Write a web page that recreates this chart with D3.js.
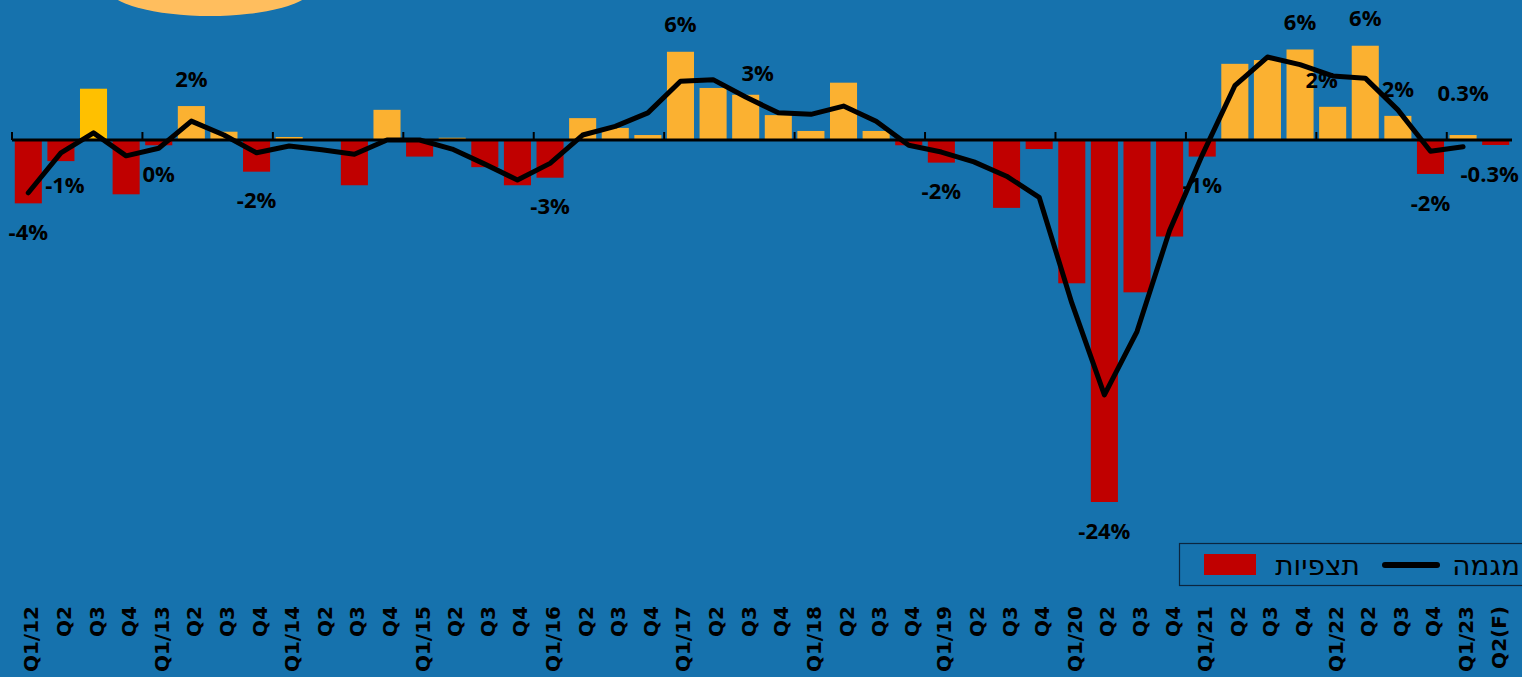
<!DOCTYPE html>
<html><head><meta charset="utf-8">
<script src="https://cdn.jsdelivr.net/npm/d3@7/dist/d3.min.js"></script>
<style>
html,body{margin:0;padding:0;background:#1672AD;overflow:hidden;}
svg{display:block;}
</style></head>
<body>
<svg id="chart" width="1522" height="677"></svg>
<script>
// ---- data ----
const quarters = ["Q1/12","Q2","Q3","Q4","Q1/13","Q2","Q3","Q4","Q1/14","Q2","Q3","Q4",
  "Q1/15","Q2","Q3","Q4","Q1/16","Q2","Q3","Q4","Q1/17","Q2","Q3","Q4",
  "Q1/18","Q2","Q3","Q4","Q1/19","Q2","Q3","Q4","Q1/20","Q2","Q3","Q4",
  "Q1/21","Q2","Q3","Q4","Q1/22","Q2","Q3","Q4","Q1/23","Q2(F)"];
// observations (bars), % change
const observations = [-4.2,-1.4,3.4,-3.6,-0.35,2.25,0.55,-2.1,0.2,0,-3.0,2.0,
  -1.1,0.15,-1.8,-3.0,-2.5,1.45,0.8,0.33,5.85,3.45,3.0,1.65,
  0.6,3.8,0.6,-0.35,-1.5,0,-4.5,-0.6,-9.5,-24.0,-10.1,-6.4,
  -1.1,5.05,5.3,6.0,2.2,6.25,1.6,-2.25,0.33,-0.33];
// trend (line), ends at Q1/23
const trend = [-3.5,-0.85,0.47,-1.05,-0.55,1.25,0.33,-0.85,-0.4,-0.65,-0.95,0,
  0,-0.6,-1.6,-2.65,-1.55,0.33,0.9,1.8,3.9,4.0,2.85,1.8,
  1.7,2.25,1.25,-0.35,-0.8,-1.45,-2.4,-3.8,-10.8,-16.9,-12.7,-6.0,
  -1.0,3.6,5.5,5.0,4.25,4.1,2.0,-0.75,-0.45];
const labelIdx  = [0,1,4,5,7,16,20,22,28,33,36,39,40,41,42,43,44,45];
const labelText = ["-4%","-1%","0%","2%","-2%","-3%","6%","3%","-2%","-24%","-1%","6%","2%","6%","2%","-2%","0.3%","-0.3%"];
const legendNames = ["מגמה","תצפיות"];

// ---- layout ----
const svg = d3.select("#chart");
const W = 1522, H = 677;
svg.append("rect").attr("width",W).attr("height",H).attr("fill","#1672AD");

// decorative shape at top
svg.append("ellipse").attr("cx",210).attr("cy",-12).attr("rx",102).attr("ry",28).attr("fill","#FFBE5E");

const x = d3.scaleBand().domain(d3.range(quarters.length)).range([12,1512])
  .paddingInner(0.17).paddingOuter(0.085);
const y = d3.scaleLinear().domain([0,-24]).range([140,502]);

const colour = (v,i) => i===2 ? "#FFC000" : (v<0 ? "#C00000" : "#FBB131");

svg.append("g").selectAll("rect").data(observations).join("rect")
  .attr("x",(d,i)=>x(i))
  .attr("width",x.bandwidth())
  .attr("y",d=>Math.min(y(d),y(0)))
  .attr("height",d=>Math.abs(y(d)-y(0)))
  .attr("fill",(d,i)=>colour(d,i));

// axis
const gAx = svg.append("g").attr("transform",`translate(0,${y(0)})`);
gAx.append("line").attr("x1",12).attr("x2",1512).attr("stroke","#000").attr("stroke-width",3);
const step = x.step();
const tickPos = d3.range(0,quarters.length,4).map(i=>x(i)-x.paddingInner()*step/2);
gAx.selectAll("line.tk").data(tickPos).join("line").attr("class","tk")
  .attr("x1",d=>d).attr("x2",d=>d).attr("y1",0).attr("y2",-8)
  .attr("stroke","#000").attr("stroke-width",2);

// category labels
svg.append("g").selectAll("text").data(quarters).join("text")
  .attr("transform",(d,i)=>`translate(${x(i)+x.bandwidth()/2+10},606) rotate(-90)`)
  .attr("text-anchor","end")
  .attr("font-family","DejaVu Sans, Verdana, sans-serif")
  .attr("font-weight","bold").attr("font-size",20)
  .attr("fill","#000").text(d=>d);

// trend line
const line = d3.line().x((d,i)=>x(i)+x.bandwidth()/2).y(d=>y(d));
svg.append("path").datum(trend).attr("d",line)
  .attr("fill","none").attr("stroke","#000").attr("stroke-width",5)
  .attr("stroke-linejoin","round").attr("stroke-linecap","round");

// data labels
const nudge = {1:[4,-5],22:[12,6],40:[-11,0],44:[0,-15],45:[-6,0]};
svg.append("g").selectAll("text").data(labelIdx).join("text")
  .attr("x",(d)=>x(d)+x.bandwidth()/2+(nudge[d]?nudge[d][0]:0))
  .attr("y",(d)=>{const v=observations[d]; return (v<0? y(v)+29 : y(v)-27)+(nudge[d]?nudge[d][1]:0);})
  .attr("dy","0.35em")
  .attr("text-anchor","middle")
  .attr("font-family","Open Sans, sans-serif").attr("font-weight",700).attr("font-size",22)
  .attr("fill","#000").text((d,k)=>labelText[k]);

// legend
const lg = svg.append("g");
lg.append("rect").attr("x",1179.5).attr("y",543.5).attr("width",360).attr("height",42)
  .attr("fill","none").attr("stroke","#0B2640").attr("stroke-width",1.2);
lg.append("rect").attr("x",1204).attr("y",554).attr("width",52).attr("height",21).attr("fill","#C00000");
lg.append("text").attr("x",1360).attr("y",575).attr("text-anchor","end")
  .attr("font-family","DejaVu Sans, sans-serif").attr("font-size",28).attr("fill","#000")
  .text(legendNames[1]);
lg.append("line").attr("x1",1385).attr("x2",1437).attr("y1",565).attr("y2",565)
  .attr("stroke","#000").attr("stroke-width",6).attr("stroke-linecap","round");
lg.append("text").attr("x",1520).attr("y",575).attr("text-anchor","end")
  .attr("font-family","DejaVu Sans, sans-serif").attr("font-size",28).attr("fill","#000")
  .text(legendNames[0]);
</script>
</body></html>
